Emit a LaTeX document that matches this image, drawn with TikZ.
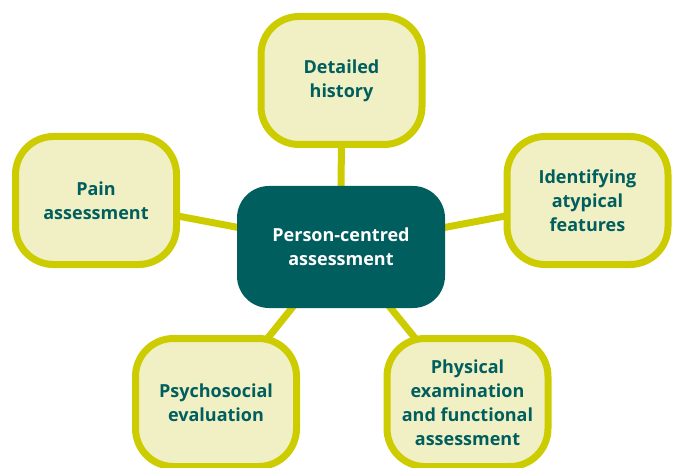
\documentclass[tikz,border=0pt]{standalone}
\usepackage{fontspec}
\setmainfont{Open Sans}
\usetikzlibrary{backgrounds}
\definecolor{leafline}{RGB}{204,204,0}
\definecolor{leaffill}{RGB}{240,240,196}
\definecolor{teal}{RGB}{0,94,94}
\begin{document}
\begin{tikzpicture}[x=1pt,y=-1pt,
  leaf/.style={draw=leafline, fill=leaffill, line width=7pt, rounded corners=38pt,
    minimum width=161pt, minimum height=128pt, inner sep=0pt, align=center,
    text=teal, font=\fontsize{18}{24}\selectfont\bfseries},
  hub/.style={fill=teal, rounded corners=32pt, minimum width=208pt, minimum height=122pt,
    inner sep=0pt, align=center, text=white, font=\fontsize{18}{24}\selectfont\bfseries},
  link/.style={draw=leafline, line width=7pt}]
\useasboundingbox (0,0) rectangle (678,468);
\clip (0,0) rectangle (678,468);
\node[hub]  (hub)   at (341,247)   {Person-centred\\assessment};
\node[leaf] (hist)  at (341.5,80.5) {Detailed\\history};
\node[leaf] (pain)  at (96,200.5)  {Pain\\assessment};
\node[leaf] (atyp)  at (587.5,200.5) {Identifying\\atypical\\features};
\node[leaf] (psych) at (216,402.5) {Psychosocial\\evaluation};
\node[leaf] (phys)  at (467.5,402.5) {Physical\\examination\\and functional\\assessment};
\begin{scope}[on background layer]
  \draw[link] (hub.center) -- (hist.center);
  \draw[link] (hub.center) -- (pain.center);
  \draw[link] (hub.center) -- (atyp.center);
  \draw[link] (hub.center) -- (psych.center);
  \draw[link] (hub.center) -- (phys.center);
\end{scope}
\end{tikzpicture}
\end{document}
